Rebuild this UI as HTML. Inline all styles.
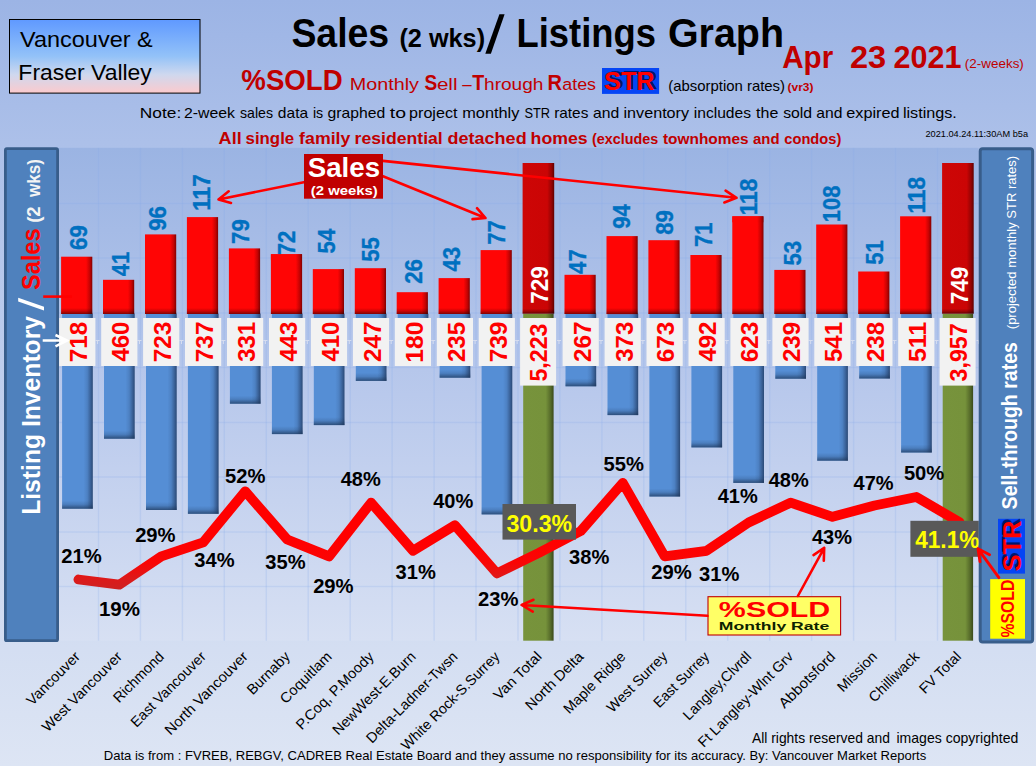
<!DOCTYPE html>
<html><head><meta charset="utf-8"><title>Sales / Listings Graph</title>
<style>html,body{margin:0;padding:0;background:#a9bde8;}body{width:1036px;height:766px;overflow:hidden;font-family:"Liberation Sans", sans-serif;}svg{display:block}</style>
</head><body>
<svg width="1036" height="766" viewBox="0 0 1036 766" font-family='"Liberation Sans", sans-serif'>
<defs>
<linearGradient id="bg" x1="0" y1="0" x2="0" y2="1">
<stop offset="0" stop-color="#9cb4e5"/><stop offset="0.185" stop-color="#acc0e9"/><stop offset="1" stop-color="#dde5f4"/></linearGradient>
<linearGradient id="plot" x1="0" y1="0" x2="0" y2="1">
<stop offset="0" stop-color="#9bb4e3"/><stop offset="0.5" stop-color="#b9c9ec"/><stop offset="1" stop-color="#d7e0f3"/></linearGradient>
<linearGradient id="vfv" x1="0" y1="0" x2="0" y2="1">
<stop offset="0" stop-color="#5f99ff"/><stop offset="0.5" stop-color="#93c2f8"/><stop offset="0.75" stop-color="#cfd8ee"/><stop offset="1" stop-color="#fccacd"/></linearGradient>
<linearGradient id="redR" x1="0" y1="0" x2="1" y2="0">
<stop offset="0" stop-color="#ff0505"/><stop offset="0.8" stop-color="#ff0505"/><stop offset="0.92" stop-color="#c40303"/><stop offset="1" stop-color="#820000"/></linearGradient>
<linearGradient id="dredR" x1="0" y1="0" x2="1" y2="0">
<stop offset="0" stop-color="#cd0606"/><stop offset="0.78" stop-color="#cb0505"/><stop offset="0.92" stop-color="#930303"/><stop offset="1" stop-color="#600000"/></linearGradient>
<linearGradient id="blueR" x1="0" y1="0" x2="1" y2="0">
<stop offset="0" stop-color="#558ed5"/><stop offset="0.70" stop-color="#558ed5"/><stop offset="0.82" stop-color="#4d81c3"/><stop offset="0.92" stop-color="#3b639a"/><stop offset="1" stop-color="#2a4976"/></linearGradient>
<linearGradient id="greenR" x1="0" y1="0" x2="1" y2="0">
<stop offset="0" stop-color="#77933c"/><stop offset="0.74" stop-color="#76923b"/><stop offset="0.9" stop-color="#566b2a"/><stop offset="1" stop-color="#3a4a1b"/></linearGradient>
<linearGradient id="shB" x1="0" y1="0" x2="0" y2="1">
<stop offset="0" stop-color="#000" stop-opacity="0"/><stop offset="0.5" stop-color="#000" stop-opacity="0.2"/><stop offset="1" stop-color="#000" stop-opacity="0.5"/></linearGradient>
<linearGradient id="lineG" gradientUnits="userSpaceOnUse" x1="0" y1="540" x2="0" y2="590"><stop offset="0" stop-color="#ff0000"/><stop offset="0.45" stop-color="#fa0505"/><stop offset="0.78" stop-color="#dc1a1a"/><stop offset="1" stop-color="#cc2222"/></linearGradient>
<linearGradient id="shB2" x1="0" y1="0" x2="0" y2="1"><stop offset="0" stop-color="#1d3557" stop-opacity="0"/><stop offset="0.45" stop-color="#1d3557" stop-opacity="0.18"/><stop offset="1" stop-color="#1d3557" stop-opacity="0.72"/></linearGradient>
<filter id="tsh" x="-10%" y="-10%" width="120%" height="120%"><feGaussianBlur stdDeviation="0.7"/></filter>
<filter id="lsh" x="-5%" y="-20%" width="110%" height="140%"><feGaussianBlur stdDeviation="1.2"/></filter>
</defs>
<rect width="1036" height="766" fill="url(#bg)"/>
<rect x="56" y="147.8" width="922.6" height="492.90000000000003" fill="url(#plot)"/>

<line x1="59" x2="978.6" y1="203.4" y2="203.4" stroke="#86aaea" stroke-width="1.5" opacity="0.21"/>
<line x1="59" x2="978.6" y1="258.1" y2="258.1" stroke="#86aaea" stroke-width="1.5" opacity="0.21"/>
<line x1="59" x2="978.6" y1="312.9" y2="312.9" stroke="#86aaea" stroke-width="1.5" opacity="0.21"/>
<line x1="59" x2="978.6" y1="367.6" y2="367.6" stroke="#86aaea" stroke-width="1.5" opacity="0.21"/>
<line x1="59" x2="978.6" y1="422.4" y2="422.4" stroke="#86aaea" stroke-width="1.5" opacity="0.21"/>
<line x1="59" x2="978.6" y1="477.1" y2="477.1" stroke="#86aaea" stroke-width="1.5" opacity="0.21"/>
<line x1="59" x2="978.6" y1="531.9" y2="531.9" stroke="#86aaea" stroke-width="1.5" opacity="0.21"/>
<line x1="59" x2="978.6" y1="586.6" y2="586.6" stroke="#86aaea" stroke-width="1.5" opacity="0.21"/>
<line x1="98.5" x2="98.5" y1="147.8" y2="640.7" stroke="#86aaea" stroke-width="1.5" opacity="0.21"/>
<line x1="140.4" x2="140.4" y1="147.8" y2="640.7" stroke="#86aaea" stroke-width="1.5" opacity="0.21"/>
<line x1="182.4" x2="182.4" y1="147.8" y2="640.7" stroke="#86aaea" stroke-width="1.5" opacity="0.21"/>
<line x1="224.3" x2="224.3" y1="147.8" y2="640.7" stroke="#86aaea" stroke-width="1.5" opacity="0.21"/>
<line x1="266.3" x2="266.3" y1="147.8" y2="640.7" stroke="#86aaea" stroke-width="1.5" opacity="0.21"/>
<line x1="308.2" x2="308.2" y1="147.8" y2="640.7" stroke="#86aaea" stroke-width="1.5" opacity="0.21"/>
<line x1="350.2" x2="350.2" y1="147.8" y2="640.7" stroke="#86aaea" stroke-width="1.5" opacity="0.21"/>
<line x1="392.1" x2="392.1" y1="147.8" y2="640.7" stroke="#86aaea" stroke-width="1.5" opacity="0.21"/>
<line x1="434.1" x2="434.1" y1="147.8" y2="640.7" stroke="#86aaea" stroke-width="1.5" opacity="0.21"/>
<line x1="476.0" x2="476.0" y1="147.8" y2="640.7" stroke="#86aaea" stroke-width="1.5" opacity="0.21"/>
<line x1="518.0" x2="518.0" y1="147.8" y2="640.7" stroke="#86aaea" stroke-width="1.5" opacity="0.21"/>
<line x1="559.9" x2="559.9" y1="147.8" y2="640.7" stroke="#86aaea" stroke-width="1.5" opacity="0.21"/>
<line x1="601.9" x2="601.9" y1="147.8" y2="640.7" stroke="#86aaea" stroke-width="1.5" opacity="0.21"/>
<line x1="643.8" x2="643.8" y1="147.8" y2="640.7" stroke="#86aaea" stroke-width="1.5" opacity="0.21"/>
<line x1="685.8" x2="685.8" y1="147.8" y2="640.7" stroke="#86aaea" stroke-width="1.5" opacity="0.21"/>
<line x1="727.7" x2="727.7" y1="147.8" y2="640.7" stroke="#86aaea" stroke-width="1.5" opacity="0.21"/>
<line x1="769.7" x2="769.7" y1="147.8" y2="640.7" stroke="#86aaea" stroke-width="1.5" opacity="0.21"/>
<line x1="811.6" x2="811.6" y1="147.8" y2="640.7" stroke="#86aaea" stroke-width="1.5" opacity="0.21"/>
<line x1="853.6" x2="853.6" y1="147.8" y2="640.7" stroke="#86aaea" stroke-width="1.5" opacity="0.21"/>
<line x1="895.5" x2="895.5" y1="147.8" y2="640.7" stroke="#86aaea" stroke-width="1.5" opacity="0.21"/>
<line x1="937.5" x2="937.5" y1="147.8" y2="640.7" stroke="#86aaea" stroke-width="1.5" opacity="0.21"/>
<rect x="62.1" y="313.6" width="30.7" height="195.1" fill="url(#blueR)"/>
<rect x="62.1" y="500.7" width="30.7" height="8.0" fill="url(#shB2)"/>
<rect x="61.1" y="256.7" width="31.2" height="57.3" fill="url(#redR)"/>
<rect x="61.1" y="308.0" width="31.2" height="6" fill="url(#shB)"/>
<rect x="104.0" y="313.6" width="30.7" height="125.1" fill="url(#blueR)"/>
<rect x="104.0" y="430.7" width="30.7" height="8.0" fill="url(#shB2)"/>
<rect x="103.0" y="279.8" width="31.2" height="34.2" fill="url(#redR)"/>
<rect x="103.0" y="308.0" width="31.2" height="6" fill="url(#shB)"/>
<rect x="146.0" y="313.6" width="30.7" height="196.4" fill="url(#blueR)"/>
<rect x="146.0" y="502.0" width="30.7" height="8.0" fill="url(#shB2)"/>
<rect x="145.0" y="234.4" width="31.2" height="79.6" fill="url(#redR)"/>
<rect x="145.0" y="308.0" width="31.2" height="6" fill="url(#shB)"/>
<rect x="187.9" y="313.6" width="30.7" height="200.2" fill="url(#blueR)"/>
<rect x="187.9" y="505.8" width="30.7" height="8.0" fill="url(#shB2)"/>
<rect x="186.9" y="217.1" width="31.2" height="96.9" fill="url(#redR)"/>
<rect x="186.9" y="308.0" width="31.2" height="6" fill="url(#shB)"/>
<rect x="229.9" y="313.6" width="30.7" height="90.1" fill="url(#blueR)"/>
<rect x="229.9" y="395.7" width="30.7" height="8.0" fill="url(#shB2)"/>
<rect x="228.9" y="248.4" width="31.2" height="65.6" fill="url(#redR)"/>
<rect x="228.9" y="308.0" width="31.2" height="6" fill="url(#shB)"/>
<rect x="271.9" y="313.6" width="30.7" height="120.5" fill="url(#blueR)"/>
<rect x="271.9" y="426.1" width="30.7" height="8.0" fill="url(#shB2)"/>
<rect x="270.9" y="254.2" width="31.2" height="59.8" fill="url(#redR)"/>
<rect x="270.9" y="308.0" width="31.2" height="6" fill="url(#shB)"/>
<rect x="313.8" y="313.6" width="30.7" height="111.5" fill="url(#blueR)"/>
<rect x="313.8" y="417.1" width="30.7" height="8.0" fill="url(#shB2)"/>
<rect x="312.8" y="269.1" width="31.2" height="45.0" fill="url(#redR)"/>
<rect x="312.8" y="308.0" width="31.2" height="6" fill="url(#shB)"/>
<rect x="355.8" y="313.6" width="30.7" height="67.3" fill="url(#blueR)"/>
<rect x="355.8" y="372.9" width="30.7" height="8.0" fill="url(#shB2)"/>
<rect x="354.8" y="268.2" width="31.2" height="45.8" fill="url(#redR)"/>
<rect x="354.8" y="308.0" width="31.2" height="6" fill="url(#shB)"/>
<rect x="397.7" y="313.6" width="30.7" height="49.1" fill="url(#blueR)"/>
<rect x="396.7" y="292.2" width="31.2" height="21.8" fill="url(#redR)"/>
<rect x="396.7" y="308.0" width="31.2" height="6" fill="url(#shB)"/>
<rect x="439.6" y="313.6" width="30.7" height="64.1" fill="url(#blueR)"/>
<rect x="439.6" y="369.7" width="30.7" height="8.0" fill="url(#shB2)"/>
<rect x="438.6" y="278.1" width="31.2" height="35.9" fill="url(#redR)"/>
<rect x="438.6" y="308.0" width="31.2" height="6" fill="url(#shB)"/>
<rect x="481.6" y="313.6" width="30.7" height="200.8" fill="url(#blueR)"/>
<rect x="481.6" y="506.4" width="30.7" height="8.0" fill="url(#shB2)"/>
<rect x="480.6" y="250.1" width="31.2" height="63.9" fill="url(#redR)"/>
<rect x="480.6" y="308.0" width="31.2" height="6" fill="url(#shB)"/>
<rect x="523.2" y="313.6" width="30.4" height="327.1" fill="url(#greenR)"/>
<rect x="522.6" y="163" width="31.6" height="150.6" fill="url(#dredR)"/>
<rect x="522.6" y="308.6" width="31.6" height="5" fill="url(#shB)"/>
<rect x="565.5" y="313.6" width="30.7" height="72.7" fill="url(#blueR)"/>
<rect x="565.5" y="378.3" width="30.7" height="8.0" fill="url(#shB2)"/>
<rect x="564.5" y="274.8" width="31.2" height="39.2" fill="url(#redR)"/>
<rect x="564.5" y="308.0" width="31.2" height="6" fill="url(#shB)"/>
<rect x="607.5" y="313.6" width="30.7" height="101.5" fill="url(#blueR)"/>
<rect x="607.5" y="407.1" width="30.7" height="8.0" fill="url(#shB2)"/>
<rect x="606.5" y="236.1" width="31.2" height="78.0" fill="url(#redR)"/>
<rect x="606.5" y="308.0" width="31.2" height="6" fill="url(#shB)"/>
<rect x="649.4" y="313.6" width="30.7" height="182.9" fill="url(#blueR)"/>
<rect x="649.4" y="488.5" width="30.7" height="8.0" fill="url(#shB2)"/>
<rect x="648.4" y="240.2" width="31.2" height="73.8" fill="url(#redR)"/>
<rect x="648.4" y="308.0" width="31.2" height="6" fill="url(#shB)"/>
<rect x="691.4" y="313.6" width="30.7" height="133.8" fill="url(#blueR)"/>
<rect x="691.4" y="439.4" width="30.7" height="8.0" fill="url(#shB2)"/>
<rect x="690.4" y="255.0" width="31.2" height="59.0" fill="url(#redR)"/>
<rect x="690.4" y="308.0" width="31.2" height="6" fill="url(#shB)"/>
<rect x="733.3" y="313.6" width="30.7" height="169.3" fill="url(#blueR)"/>
<rect x="733.3" y="474.9" width="30.7" height="8.0" fill="url(#shB2)"/>
<rect x="732.3" y="216.3" width="31.2" height="97.8" fill="url(#redR)"/>
<rect x="732.3" y="308.0" width="31.2" height="6" fill="url(#shB)"/>
<rect x="775.3" y="313.6" width="30.7" height="65.1" fill="url(#blueR)"/>
<rect x="775.3" y="370.7" width="30.7" height="8.0" fill="url(#shB2)"/>
<rect x="774.3" y="269.9" width="31.2" height="44.1" fill="url(#redR)"/>
<rect x="774.3" y="308.0" width="31.2" height="6" fill="url(#shB)"/>
<rect x="817.2" y="313.6" width="30.7" height="147.1" fill="url(#blueR)"/>
<rect x="817.2" y="452.7" width="30.7" height="8.0" fill="url(#shB2)"/>
<rect x="816.2" y="224.5" width="31.2" height="89.5" fill="url(#redR)"/>
<rect x="816.2" y="308.0" width="31.2" height="6" fill="url(#shB)"/>
<rect x="859.2" y="313.6" width="30.7" height="64.9" fill="url(#blueR)"/>
<rect x="859.2" y="370.5" width="30.7" height="8.0" fill="url(#shB2)"/>
<rect x="858.2" y="271.5" width="31.2" height="42.5" fill="url(#redR)"/>
<rect x="858.2" y="308.0" width="31.2" height="6" fill="url(#shB)"/>
<rect x="901.1" y="313.6" width="30.7" height="138.9" fill="url(#blueR)"/>
<rect x="901.1" y="444.5" width="30.7" height="8.0" fill="url(#shB2)"/>
<rect x="900.1" y="216.3" width="31.2" height="97.8" fill="url(#redR)"/>
<rect x="900.1" y="308.0" width="31.2" height="6" fill="url(#shB)"/>
<rect x="942.7" y="313.6" width="30.4" height="327.1" fill="url(#greenR)"/>
<rect x="942.1" y="163" width="31.6" height="150.6" fill="url(#dredR)"/>
<rect x="942.1" y="308.6" width="31.6" height="5" fill="url(#shB)"/>
<path d="M53.6 340.5H57.6M55.6 340.5V344" stroke="#d6ddf0" stroke-width="1" fill="none"/>
<path d="M95.6 340.5H99.6M97.6 340.5V344" stroke="#d6ddf0" stroke-width="1" fill="none"/>
<path d="M137.5 340.5H141.5M139.5 340.5V344" stroke="#d6ddf0" stroke-width="1" fill="none"/>
<path d="M179.5 340.5H183.5M181.5 340.5V344" stroke="#d6ddf0" stroke-width="1" fill="none"/>
<path d="M221.4 340.5H225.4M223.4 340.5V344" stroke="#d6ddf0" stroke-width="1" fill="none"/>
<path d="M263.4 340.5H267.4M265.4 340.5V344" stroke="#d6ddf0" stroke-width="1" fill="none"/>
<path d="M305.3 340.5H309.3M307.3 340.5V344" stroke="#d6ddf0" stroke-width="1" fill="none"/>
<path d="M347.3 340.5H351.3M349.3 340.5V344" stroke="#d6ddf0" stroke-width="1" fill="none"/>
<path d="M389.2 340.5H393.2M391.2 340.5V344" stroke="#d6ddf0" stroke-width="1" fill="none"/>
<path d="M431.2 340.5H435.2M433.2 340.5V344" stroke="#d6ddf0" stroke-width="1" fill="none"/>
<path d="M473.1 340.5H477.1M475.1 340.5V344" stroke="#d6ddf0" stroke-width="1" fill="none"/>
<path d="M515.1 340.5H519.1M517.1 340.5V344" stroke="#d6ddf0" stroke-width="1" fill="none"/>
<path d="M557.0 340.5H561.0M559.0 340.5V344" stroke="#d6ddf0" stroke-width="1" fill="none"/>
<path d="M599.0 340.5H603.0M601.0 340.5V344" stroke="#d6ddf0" stroke-width="1" fill="none"/>
<path d="M640.9 340.5H644.9M642.9 340.5V344" stroke="#d6ddf0" stroke-width="1" fill="none"/>
<path d="M682.9 340.5H686.9M684.9 340.5V344" stroke="#d6ddf0" stroke-width="1" fill="none"/>
<path d="M724.8 340.5H728.8M726.8 340.5V344" stroke="#d6ddf0" stroke-width="1" fill="none"/>
<path d="M766.8 340.5H770.8M768.8 340.5V344" stroke="#d6ddf0" stroke-width="1" fill="none"/>
<path d="M808.7 340.5H812.7M810.7 340.5V344" stroke="#d6ddf0" stroke-width="1" fill="none"/>
<path d="M850.7 340.5H854.7M852.7 340.5V344" stroke="#d6ddf0" stroke-width="1" fill="none"/>
<path d="M892.6 340.5H896.6M894.6 340.5V344" stroke="#d6ddf0" stroke-width="1" fill="none"/>
<path d="M934.6 340.5H938.6M936.6 340.5V344" stroke="#d6ddf0" stroke-width="1" fill="none"/>
<path d="M976.5 340.5H980.5M978.5 340.5V344" stroke="#d6ddf0" stroke-width="1" fill="none"/>
<rect x="59.2" y="318" width="36.2" height="48" fill="#f2f2f2"/>
<text font-size="23.8" fill="#ff0000" font-weight="bold" textLength="40.54" lengthAdjust="spacingAndGlyphs" transform="translate(87.1,362.35) rotate(-90)" >718</text>
<rect x="101.2" y="318" width="36.2" height="48" fill="#f2f2f2"/>
<text font-size="23.8" fill="#ff0000" font-weight="bold" textLength="40.04" lengthAdjust="spacingAndGlyphs" transform="translate(129.1,361.62) rotate(-90)" >460</text>
<rect x="143.1" y="318" width="36.2" height="48" fill="#f2f2f2"/>
<text font-size="23.8" fill="#ff0000" font-weight="bold" textLength="40.71" lengthAdjust="spacingAndGlyphs" transform="translate(171.0,362.36) rotate(-90)" >723</text>
<rect x="185.0" y="318" width="36.2" height="48" fill="#f2f2f2"/>
<text font-size="23.8" fill="#ff0000" font-weight="bold" textLength="40.89" lengthAdjust="spacingAndGlyphs" transform="translate(212.9,362.36) rotate(-90)" >737</text>
<rect x="227.0" y="318" width="36.2" height="48" fill="#f2f2f2"/>
<text font-size="23.8" fill="#ff0000" font-weight="bold" textLength="39.96" lengthAdjust="spacingAndGlyphs" transform="translate(254.9,361.86) rotate(-90)" >331</text>
<rect x="269.0" y="318" width="36.2" height="48" fill="#f2f2f2"/>
<text font-size="23.8" fill="#ff0000" font-weight="bold" textLength="39.96" lengthAdjust="spacingAndGlyphs" transform="translate(296.9,361.62) rotate(-90)" >443</text>
<rect x="310.9" y="318" width="36.2" height="48" fill="#f2f2f2"/>
<text font-size="23.8" fill="#ff0000" font-weight="bold" textLength="40.04" lengthAdjust="spacingAndGlyphs" transform="translate(338.8,361.62) rotate(-90)" >410</text>
<rect x="352.9" y="318" width="36.2" height="48" fill="#f2f2f2"/>
<text font-size="23.8" fill="#ff0000" font-weight="bold" textLength="40.63" lengthAdjust="spacingAndGlyphs" transform="translate(380.8,362.11) rotate(-90)" >247</text>
<rect x="394.8" y="318" width="36.2" height="48" fill="#f2f2f2"/>
<text font-size="23.8" fill="#ff0000" font-weight="bold" textLength="41.32" lengthAdjust="spacingAndGlyphs" transform="translate(422.7,362.87) rotate(-90)" >180</text>
<rect x="436.8" y="318" width="36.2" height="48" fill="#f2f2f2"/>
<text font-size="23.8" fill="#ff0000" font-weight="bold" textLength="40.21" lengthAdjust="spacingAndGlyphs" transform="translate(464.6,362.10) rotate(-90)" >235</text>
<rect x="478.7" y="318" width="36.2" height="48" fill="#f2f2f2"/>
<text font-size="23.8" fill="#ff0000" font-weight="bold" textLength="40.71" lengthAdjust="spacingAndGlyphs" transform="translate(506.6,362.36) rotate(-90)" >739</text>
<rect x="520.1" y="318" width="36" height="67.6" fill="#f2f2f2"/>
<text font-size="23.8" fill="#ff0000" font-weight="bold" textLength="58.13" lengthAdjust="spacingAndGlyphs" transform="translate(547.4,381.60) rotate(-90)" >5,223</text>
<rect x="562.6" y="318" width="36.2" height="48" fill="#f2f2f2"/>
<text font-size="23.8" fill="#ff0000" font-weight="bold" textLength="40.63" lengthAdjust="spacingAndGlyphs" transform="translate(590.5,362.11) rotate(-90)" >267</text>
<rect x="604.6" y="318" width="36.2" height="48" fill="#f2f2f2"/>
<text font-size="23.8" fill="#ff0000" font-weight="bold" textLength="40.21" lengthAdjust="spacingAndGlyphs" transform="translate(632.5,361.86) rotate(-90)" >373</text>
<rect x="646.5" y="318" width="36.2" height="48" fill="#f2f2f2"/>
<text font-size="23.8" fill="#ff0000" font-weight="bold" textLength="40.54" lengthAdjust="spacingAndGlyphs" transform="translate(674.4,362.19) rotate(-90)" >673</text>
<rect x="688.5" y="318" width="36.2" height="48" fill="#f2f2f2"/>
<text font-size="23.8" fill="#ff0000" font-weight="bold" textLength="40.04" lengthAdjust="spacingAndGlyphs" transform="translate(716.4,361.62) rotate(-90)" >492</text>
<rect x="730.4" y="318" width="36.2" height="48" fill="#f2f2f2"/>
<text font-size="23.8" fill="#ff0000" font-weight="bold" textLength="40.54" lengthAdjust="spacingAndGlyphs" transform="translate(758.3,362.19) rotate(-90)" >623</text>
<rect x="772.4" y="318" width="36.2" height="48" fill="#f2f2f2"/>
<text font-size="23.8" fill="#ff0000" font-weight="bold" textLength="40.46" lengthAdjust="spacingAndGlyphs" transform="translate(800.3,362.11) rotate(-90)" >239</text>
<rect x="814.3" y="318" width="36.2" height="48" fill="#f2f2f2"/>
<text font-size="23.8" fill="#ff0000" font-weight="bold" textLength="40.13" lengthAdjust="spacingAndGlyphs" transform="translate(842.2,362.02) rotate(-90)" >541</text>
<rect x="856.3" y="318" width="36.2" height="48" fill="#f2f2f2"/>
<text font-size="23.8" fill="#ff0000" font-weight="bold" textLength="40.29" lengthAdjust="spacingAndGlyphs" transform="translate(884.2,362.10) rotate(-90)" >238</text>
<rect x="898.2" y="318" width="36.2" height="48" fill="#f2f2f2"/>
<text font-size="23.8" fill="#ff0000" font-weight="bold" textLength="40.21" lengthAdjust="spacingAndGlyphs" transform="translate(926.1,362.05) rotate(-90)" >511</text>
<rect x="939.6" y="318" width="36" height="67.6" fill="#f2f2f2"/>
<text font-size="23.8" fill="#ff0000" font-weight="bold" textLength="58.13" lengthAdjust="spacingAndGlyphs" transform="translate(966.9,381.44) rotate(-90)" >3,957</text>
<text font-size="23.2" fill="#0070c0" font-weight="bold" textLength="24.6" lengthAdjust="spacingAndGlyphs" transform="translate(87.1,249.9) rotate(-90)" stroke="#0070c0" stroke-width="0.35">69</text>
<text font-size="23.2" fill="#0070c0" font-weight="bold" textLength="24.6" lengthAdjust="spacingAndGlyphs" transform="translate(129.4,276.3) rotate(-90)" stroke="#0070c0" stroke-width="0.35">41</text>
<text font-size="23.2" fill="#0070c0" font-weight="bold" textLength="24.6" lengthAdjust="spacingAndGlyphs" transform="translate(166.2,230.8) rotate(-90)" stroke="#0070c0" stroke-width="0.35">96</text>
<text font-size="23.2" fill="#0070c0" font-weight="bold" textLength="36.6" lengthAdjust="spacingAndGlyphs" transform="translate(209.6,210.8) rotate(-90)" stroke="#0070c0" stroke-width="0.35">117</text>
<text font-size="23.2" fill="#0070c0" font-weight="bold" textLength="24.6" lengthAdjust="spacingAndGlyphs" transform="translate(248.7,243.9) rotate(-90)" stroke="#0070c0" stroke-width="0.35">79</text>
<text font-size="23.2" fill="#0070c0" font-weight="bold" textLength="24.6" lengthAdjust="spacingAndGlyphs" transform="translate(295,255.2) rotate(-90)" stroke="#0070c0" stroke-width="0.35">72</text>
<text font-size="23.2" fill="#0070c0" font-weight="bold" textLength="24.6" lengthAdjust="spacingAndGlyphs" transform="translate(335,253.4) rotate(-90)" stroke="#0070c0" stroke-width="0.35">54</text>
<text font-size="23.2" fill="#0070c0" font-weight="bold" textLength="24.6" lengthAdjust="spacingAndGlyphs" transform="translate(379,261.8) rotate(-90)" stroke="#0070c0" stroke-width="0.35">55</text>
<text font-size="23.2" fill="#0070c0" font-weight="bold" textLength="24.6" lengthAdjust="spacingAndGlyphs" transform="translate(422,283.7) rotate(-90)" stroke="#0070c0" stroke-width="0.35">26</text>
<text font-size="23.2" fill="#0070c0" font-weight="bold" textLength="24.6" lengthAdjust="spacingAndGlyphs" transform="translate(459.9,271.6) rotate(-90)" stroke="#0070c0" stroke-width="0.35">43</text>
<text font-size="23.2" fill="#0070c0" font-weight="bold" textLength="24.6" lengthAdjust="spacingAndGlyphs" transform="translate(504.7,244.8) rotate(-90)" stroke="#0070c0" stroke-width="0.35">77</text>
<text font-size="23.2" fill="#0070c0" font-weight="bold" textLength="24.6" lengthAdjust="spacingAndGlyphs" transform="translate(585.9,273.9) rotate(-90)" stroke="#0070c0" stroke-width="0.35">47</text>
<text font-size="23.2" fill="#0070c0" font-weight="bold" textLength="24.6" lengthAdjust="spacingAndGlyphs" transform="translate(630.2,228.7) rotate(-90)" stroke="#0070c0" stroke-width="0.35">94</text>
<text font-size="23.2" fill="#0070c0" font-weight="bold" textLength="24.6" lengthAdjust="spacingAndGlyphs" transform="translate(673.1,234.8) rotate(-90)" stroke="#0070c0" stroke-width="0.35">89</text>
<text font-size="23.2" fill="#0070c0" font-weight="bold" textLength="24.6" lengthAdjust="spacingAndGlyphs" transform="translate(711.9,247) rotate(-90)" stroke="#0070c0" stroke-width="0.35">71</text>
<text font-size="23.2" fill="#0070c0" font-weight="bold" textLength="36.6" lengthAdjust="spacingAndGlyphs" transform="translate(757.4,215.3) rotate(-90)" stroke="#0070c0" stroke-width="0.35">118</text>
<text font-size="23.2" fill="#0070c0" font-weight="bold" textLength="24.6" lengthAdjust="spacingAndGlyphs" transform="translate(800.8,265.6) rotate(-90)" stroke="#0070c0" stroke-width="0.35">53</text>
<text font-size="23.2" fill="#0070c0" font-weight="bold" textLength="36.6" lengthAdjust="spacingAndGlyphs" transform="translate(839.9,222.2) rotate(-90)" stroke="#0070c0" stroke-width="0.35">108</text>
<text font-size="23.2" fill="#0070c0" font-weight="bold" textLength="24.6" lengthAdjust="spacingAndGlyphs" transform="translate(883.3,264.8) rotate(-90)" stroke="#0070c0" stroke-width="0.35">51</text>
<text font-size="23.2" fill="#0070c0" font-weight="bold" textLength="36.6" lengthAdjust="spacingAndGlyphs" transform="translate(924.6,213.5) rotate(-90)" stroke="#0070c0" stroke-width="0.35">118</text>
<rect x="270.9" y="254.2" width="31" height="6" fill="url(#redR)"/>
<rect x="732.3" y="216.3" width="31" height="6" fill="url(#redR)"/>
<text font-size="23.6" fill="#fff" font-weight="bold" textLength="37.6" lengthAdjust="spacingAndGlyphs" transform="translate(548.3,303.8) rotate(-90)" >729</text>
<text font-size="23.6" fill="#fff" font-weight="bold" textLength="37.6" lengthAdjust="spacingAndGlyphs" transform="translate(967.6,304.2) rotate(-90)" >749</text>
<path d="M78.4 579.5 L119.3 584.7 L161.3 556.4 L203.2 542.3 L245.2 491.3 L287.2 539.5 L329.1 556.4 L371.1 502.7 L413.0 550.8 L454.9 525.3 L496.9 573.4 L538.9 552.8 L580.8 531.0 L622.8 482.9 L664.7 556.4 L706.6 550.8 L748.6 522.5 L790.6 502.7 L832.5 516.8 L874.5 505.5 L916.4 497.0 L959.6 522.2" fill="none" stroke="url(#lineG)" stroke-width="9.8" stroke-linejoin="round" stroke-linecap="round"/>
<text font-size="20.4" fill="#000" font-weight="bold" textLength="40.48" lengthAdjust="spacingAndGlyphs" x="61.33" y="563.4" >21%</text>
<text font-size="20.4" fill="#000" font-weight="bold" textLength="41.11" lengthAdjust="spacingAndGlyphs" x="98.90" y="615.6" >19%</text>
<text font-size="20.4" fill="#000" font-weight="bold" textLength="40.48" lengthAdjust="spacingAndGlyphs" x="135.13" y="541.6" >29%</text>
<text font-size="20.4" fill="#000" font-weight="bold" textLength="40.27" lengthAdjust="spacingAndGlyphs" x="194.33" y="566.6" >34%</text>
<text font-size="20.4" fill="#000" font-weight="bold" textLength="40.41" lengthAdjust="spacingAndGlyphs" x="225.09" y="482.6" >52%</text>
<text font-size="20.4" fill="#000" font-weight="bold" textLength="40.27" lengthAdjust="spacingAndGlyphs" x="265.33" y="569.2" >35%</text>
<text font-size="20.4" fill="#000" font-weight="bold" textLength="40.48" lengthAdjust="spacingAndGlyphs" x="313.13" y="592.6" >29%</text>
<text font-size="20.4" fill="#000" font-weight="bold" textLength="40.06" lengthAdjust="spacingAndGlyphs" x="340.73" y="486.4" >48%</text>
<text font-size="20.4" fill="#000" font-weight="bold" textLength="40.27" lengthAdjust="spacingAndGlyphs" x="395.53" y="579.3" >31%</text>
<text font-size="20.4" fill="#000" font-weight="bold" textLength="40.06" lengthAdjust="spacingAndGlyphs" x="433.23" y="507.8" >40%</text>
<text font-size="20.4" fill="#000" font-weight="bold" textLength="40.48" lengthAdjust="spacingAndGlyphs" x="478.03" y="606.4" >23%</text>
<text font-size="20.4" fill="#000" font-weight="bold" textLength="40.27" lengthAdjust="spacingAndGlyphs" x="569.03" y="563.5" >38%</text>
<text font-size="20.4" fill="#000" font-weight="bold" textLength="40.41" lengthAdjust="spacingAndGlyphs" x="603.59" y="471.4" >55%</text>
<text font-size="20.4" fill="#000" font-weight="bold" textLength="40.48" lengthAdjust="spacingAndGlyphs" x="651.23" y="579.3" >29%</text>
<text font-size="20.4" fill="#000" font-weight="bold" textLength="40.27" lengthAdjust="spacingAndGlyphs" x="699.03" y="581.4" >31%</text>
<text font-size="20.4" fill="#000" font-weight="bold" textLength="40.06" lengthAdjust="spacingAndGlyphs" x="717.73" y="502.7" >41%</text>
<text font-size="20.4" fill="#000" font-weight="bold" textLength="40.06" lengthAdjust="spacingAndGlyphs" x="768.73" y="487.2" >48%</text>
<text font-size="20.4" fill="#000" font-weight="bold" textLength="40.06" lengthAdjust="spacingAndGlyphs" x="811.93" y="544.1" >43%</text>
<text font-size="20.4" fill="#000" font-weight="bold" textLength="40.06" lengthAdjust="spacingAndGlyphs" x="853.53" y="490.2" >47%</text>
<text font-size="20.4" fill="#000" font-weight="bold" textLength="40.41" lengthAdjust="spacingAndGlyphs" x="903.89" y="480.2" >50%</text>
<rect x="502.5" y="504" width="73.5" height="35.6" fill="#595959"/>
<text font-size="23.6" fill="#ffff00" font-weight="bold" textLength="65.73" lengthAdjust="spacingAndGlyphs" x="506.46" y="531.6" >30.3%</text>
<rect x="910.4" y="520.8" width="68.4" height="36" fill="#595959"/>
<text font-size="23.6" fill="#ffff00" font-weight="bold" textLength="64.18" lengthAdjust="spacingAndGlyphs" x="915.20" y="547.8" >41.1%</text>
<text font-size="14.4" fill="#000" text-anchor="end" textLength="68.9" lengthAdjust="spacingAndGlyphs" transform="translate(81.0,657.5) rotate(-45)" >Vancouver</text>
<text font-size="14.4" fill="#000" text-anchor="end" textLength="106.4" lengthAdjust="spacingAndGlyphs" transform="translate(123.0,657.5) rotate(-45)" >West Vancouver</text>
<text font-size="14.4" fill="#000" text-anchor="end" textLength="65.0" lengthAdjust="spacingAndGlyphs" transform="translate(164.9,657.5) rotate(-45)" >Richmond</text>
<text font-size="14.4" fill="#000" text-anchor="end" textLength="99.6" lengthAdjust="spacingAndGlyphs" transform="translate(206.8,657.5) rotate(-45)" >East Vancouver</text>
<text font-size="14.4" fill="#000" text-anchor="end" textLength="110.7" lengthAdjust="spacingAndGlyphs" transform="translate(248.8,657.5) rotate(-45)" >North Vancouver</text>
<text font-size="14.4" fill="#000" text-anchor="end" textLength="53.8" lengthAdjust="spacingAndGlyphs" transform="translate(290.8,657.5) rotate(-45)" >Burnaby</text>
<text font-size="14.4" fill="#000" text-anchor="end" textLength="66.3" lengthAdjust="spacingAndGlyphs" transform="translate(332.7,657.5) rotate(-45)" >Coquitlam</text>
<text font-size="14.4" fill="#000" text-anchor="end" textLength="103.2" lengthAdjust="spacingAndGlyphs" transform="translate(374.6,657.5) rotate(-45)" >P.Coq, P.Moody</text>
<text font-size="14.4" fill="#000" text-anchor="end" textLength="110.8" lengthAdjust="spacingAndGlyphs" transform="translate(416.6,657.5) rotate(-45)" >NewWest-E.Burn</text>
<text font-size="14.4" fill="#000" text-anchor="end" textLength="122.3" lengthAdjust="spacingAndGlyphs" transform="translate(458.5,657.5) rotate(-45)" >Delta-Ladner-Twsn</text>
<text font-size="14.4" fill="#000" text-anchor="end" textLength="132.2" lengthAdjust="spacingAndGlyphs" transform="translate(500.5,657.5) rotate(-45)" >White Rock-S.Surrey</text>
<text font-size="14.4" fill="#000" text-anchor="end" textLength="61.1" lengthAdjust="spacingAndGlyphs" transform="translate(542.5,657.5) rotate(-45)" >Van Total</text>
<text font-size="14.4" fill="#000" text-anchor="end" textLength="75.6" lengthAdjust="spacingAndGlyphs" transform="translate(584.4,657.5) rotate(-45)" >North Delta</text>
<text font-size="14.4" fill="#000" text-anchor="end" textLength="80.7" lengthAdjust="spacingAndGlyphs" transform="translate(626.4,657.5) rotate(-45)" >Maple Ridge</text>
<text font-size="14.4" fill="#000" text-anchor="end" textLength="78.9" lengthAdjust="spacingAndGlyphs" transform="translate(668.3,657.5) rotate(-45)" >West Surrey</text>
<text font-size="14.4" fill="#000" text-anchor="end" textLength="72.2" lengthAdjust="spacingAndGlyphs" transform="translate(710.2,657.5) rotate(-45)" >East Surrey</text>
<text font-size="14.4" fill="#000" text-anchor="end" textLength="89.7" lengthAdjust="spacingAndGlyphs" transform="translate(752.2,657.5) rotate(-45)" >Langley,Clvrdl</text>
<text font-size="14.4" fill="#000" text-anchor="end" textLength="128.0" lengthAdjust="spacingAndGlyphs" transform="translate(794.2,657.5) rotate(-45)" >Ft Langley-Wlnt Grv</text>
<text font-size="14.4" fill="#000" text-anchor="end" textLength="72.8" lengthAdjust="spacingAndGlyphs" transform="translate(836.1,657.5) rotate(-45)" >Abbotsford</text>
<text font-size="14.4" fill="#000" text-anchor="end" textLength="49.8" lengthAdjust="spacingAndGlyphs" transform="translate(878.1,657.5) rotate(-45)" >Mission</text>
<text font-size="14.4" fill="#000" text-anchor="end" textLength="64.2" lengthAdjust="spacingAndGlyphs" transform="translate(920.0,657.5) rotate(-45)" >Chilliwack</text>
<text font-size="14.4" fill="#000" text-anchor="end" textLength="52.4" lengthAdjust="spacingAndGlyphs" transform="translate(962.0,657.5) rotate(-45)" >FV Total</text>
<rect x="5.4" y="148.7" width="52.2" height="492" rx="1.5" fill="#4f81bd" stroke="#385d8a" stroke-width="2.8"/>
<text font-size="26" fill="#fff" font-weight="bold" textLength="198.90" lengthAdjust="spacingAndGlyphs" transform="translate(39.9,514.85) rotate(-90)" >Listing Inventory</text>
<polygon points="18.2,297.8 18.2,301.4 44,310.4 44,306.7" fill="#fff"/>
<text font-size="26" fill="#ff0000" font-weight="bold" textLength="61.55" lengthAdjust="spacingAndGlyphs" transform="translate(39.9,290.01) rotate(-90)" >Sales</text>
<text font-size="18.8" fill="#f4f4f4" font-weight="bold" textLength="16.45" lengthAdjust="spacingAndGlyphs" transform="translate(39.9,222.83) rotate(-90)" >(2</text>
<text font-size="18.8" fill="#f4f4f4" font-weight="bold" textLength="38.10" lengthAdjust="spacingAndGlyphs" transform="translate(39.9,197.04) rotate(-90)" >wks)</text>
<path d="M43.2 296.6H72" stroke="#ff0000" stroke-width="2.6" fill="none"/>
<path d="M42.7 340.5H66M55.5 335L67 340.5L55.5 346.4" stroke="#fff" stroke-width="2.6" fill="none"/>
<rect x="980.2" y="148.7" width="52.4" height="493.4" rx="2.5" fill="#4f81bd" stroke="#385d8a" stroke-width="3"/>
<text font-size="22" fill="#fff" font-weight="bold" textLength="167.4" lengthAdjust="spacingAndGlyphs" transform="translate(1016.5,509.4) rotate(-90)" >Sell-through rates</text>
<text font-size="12.8" fill="#fff" textLength="173.3" lengthAdjust="spacingAndGlyphs" transform="translate(1016.3,329.2) rotate(-90)" >(projected monthly STR rates)</text>
<rect x="998" y="518.8" width="27" height="54.8" fill="#0545f5"/>
<text font-size="26.6" fill="#00156a" font-weight="bold" textLength="51.06" lengthAdjust="spacingAndGlyphs" transform="translate(1019.8000000000001,568.97) rotate(-90)" filter="url(#tsh)">STR</text>
<text font-size="26.6" fill="#ff0000" font-weight="bold" textLength="51.06" lengthAdjust="spacingAndGlyphs" transform="translate(1021.2,571.57) rotate(-90)" >STR</text>
<rect x="990.2" y="579.1" width="34.8" height="59.6" fill="#ffff00"/>
<text font-size="18.4" fill="#ff0000" font-weight="bold" textLength="57.75" lengthAdjust="spacingAndGlyphs" transform="translate(1013.7,637.47) rotate(-90)" >%SOLD</text>
<rect x="708" y="596.7" width="132.6" height="38.3" fill="#ffff66" stroke="#c00000" stroke-width="1.1"/>
<text font-size="22.2" fill="#ff0000" font-weight="bold" textLength="111.44" lengthAdjust="spacingAndGlyphs" x="718.89" y="616.5" >%SOLD</text>
<text font-size="10.8" fill="#0c2200" font-weight="bold" textLength="110.42" lengthAdjust="spacingAndGlyphs" x="718.83" y="629.8" >Monthly Rate</text>
<path d="M305.0 182.0L218.5 199.4M231.0 202.9L218.5 199.4L228.7 191.3" fill="none" stroke="#ff0000" stroke-width="2.6" stroke-linecap="round" stroke-linejoin="round"/>
<path d="M383.0 176.2L485.5 218.0M477.0 208.2L485.5 218.0L472.5 219.1" fill="none" stroke="#ff0000" stroke-width="2.6" stroke-linecap="round" stroke-linejoin="round"/>
<path d="M383.0 160.9L736.5 197.8M725.6 190.7L736.5 197.8L724.4 202.5" fill="none" stroke="#ff0000" stroke-width="2.6" stroke-linecap="round" stroke-linejoin="round"/>
<path d="M707.5 615.8L521.6 605.0M532.8 611.6L521.6 605.0L533.5 599.8" fill="none" stroke="#ff0000" stroke-width="2.6" stroke-linecap="round" stroke-linejoin="round"/>
<path d="M797.9 596.0L824.2 547.8M813.5 555.1L824.2 547.8L823.8 560.8" fill="none" stroke="#ff0000" stroke-width="2.6" stroke-linecap="round" stroke-linejoin="round"/>
<path d="M998.9 577.6L978.0 548.8M980.0 561.6L978.0 548.8L989.6 554.7" fill="none" stroke="#ff0000" stroke-width="2.9" stroke-linecap="round" stroke-linejoin="round"/>
<rect x="304" y="154" width="79" height="44.7" fill="#c00000"/>
<text font-size="28.2" fill="#fff" font-weight="bold" textLength="72.33" lengthAdjust="spacingAndGlyphs" x="307.77" y="177" >Sales</text>
<text font-size="13.7" fill="#fff" font-weight="bold" textLength="66.87" lengthAdjust="spacingAndGlyphs" x="310.86" y="195.2" >(2 weeks)</text>
<rect x="9.5" y="19.5" width="190.5" height="73.6" fill="url(#vfv)" stroke="#000" stroke-width="1"/>
<text font-size="22.6" fill="#000" textLength="132.72" lengthAdjust="spacingAndGlyphs" x="20.02" y="47.2" >Vancouver &amp;</text>
<text font-size="22.6" fill="#000" textLength="133.48" lengthAdjust="spacingAndGlyphs" x="18.39" y="79.8" >Fraser Valley</text>
<text font-size="41" fill="#000" font-weight="bold" textLength="97.82" lengthAdjust="spacingAndGlyphs" x="291.38" y="46.7" >Sales</text>
<text font-size="25.2" fill="#000" font-weight="bold" textLength="85.63" lengthAdjust="spacingAndGlyphs" x="399.44" y="46.5" >(2 wks)</text>
<polygon points="499.4,14.2 504.6,14.2 490.9,53.7 485.3,53.7" fill="#000"/>
<text font-size="41" fill="#000" font-weight="bold" textLength="139.59" lengthAdjust="spacingAndGlyphs" x="516.47" y="46.5" >Listings</text>
<text font-size="41" fill="#000" font-weight="bold" textLength="116.10" lengthAdjust="spacingAndGlyphs" x="667.92" y="46.5" >Graph</text>
<text font-size="31.6" fill="#c00000" font-weight="bold" textLength="50.95" lengthAdjust="spacingAndGlyphs" x="782.21" y="68.2" >Apr</text>
<text font-size="31.6" fill="#c00000" font-weight="bold" textLength="36.25" lengthAdjust="spacingAndGlyphs" x="849.91" y="68.2" >23</text>
<text font-size="31.6" fill="#c00000" font-weight="bold" textLength="67.97" lengthAdjust="spacingAndGlyphs" x="893.48" y="68.2" >2021</text>
<text font-size="12.2" fill="#c00000" textLength="59.00" lengthAdjust="spacingAndGlyphs" x="964.85" y="68" >(2-weeks)</text>
<text font-size="30.2" fill="#c00000" font-weight="bold" textLength="101.35" lengthAdjust="spacingAndGlyphs" x="241.36" y="90.4" >%SOLD</text>
<text font-size="17.4" fill="#c00000" textLength="69.24" lengthAdjust="spacingAndGlyphs" x="349.75" y="90.2" >Monthly</text>
<text font-size="22.2" fill="#c00000" font-weight="bold" textLength="12.74" lengthAdjust="spacingAndGlyphs" x="424.53" y="90.2" >S</text>
<text font-size="17.4" fill="#c00000" textLength="20.61" lengthAdjust="spacingAndGlyphs" x="436.91" y="90.2" >ell</text>
<text font-size="17.4" fill="#c00000" textLength="9.39" lengthAdjust="spacingAndGlyphs" x="462.20" y="90.2" >–</text>
<text font-size="22.2" fill="#c00000" font-weight="bold" textLength="12.01" lengthAdjust="spacingAndGlyphs" x="472.20" y="90.2" >T</text>
<text font-size="17.4" fill="#c00000" textLength="59.42" lengthAdjust="spacingAndGlyphs" x="484.06" y="90.2" >hrough</text>
<text font-size="22.2" fill="#c00000" font-weight="bold" textLength="14.48" lengthAdjust="spacingAndGlyphs" x="547.56" y="90.2" >R</text>
<text font-size="17.4" fill="#c00000" textLength="33.83" lengthAdjust="spacingAndGlyphs" x="562.22" y="90.2" >ates</text>
<rect x="602" y="68" width="57.1" height="25.9" fill="#0545f5"/>
<text font-size="26.3" fill="#00156a" font-weight="bold" textLength="50.55" lengthAdjust="spacingAndGlyphs" x="606.64" y="88.6" filter="url(#tsh)">STR</text>
<text font-size="26.3" fill="#ff0000" font-weight="bold" textLength="50.55" lengthAdjust="spacingAndGlyphs" x="604.04" y="90" >STR</text>
<text font-size="14.2" fill="#000" textLength="116.79" lengthAdjust="spacingAndGlyphs" x="668.26" y="90.8" >(absorption rates)</text>
<text font-size="10.8" fill="#c00000" font-weight="bold" textLength="25.91" lengthAdjust="spacingAndGlyphs" x="787.50" y="90.6" >(vr3)</text>
<text font-size="14.6" fill="#000" textLength="41.40" lengthAdjust="spacingAndGlyphs" x="139.86" y="117.6" >Note:</text>
<text font-size="14.6" fill="#000" textLength="51.00" lengthAdjust="spacingAndGlyphs" x="183.91" y="117.6" >2-week</text>
<text font-size="14.6" fill="#000" textLength="33.01" lengthAdjust="spacingAndGlyphs" x="240.02" y="117.6" >sales</text>
<text font-size="14.6" fill="#000" textLength="30.21" lengthAdjust="spacingAndGlyphs" x="277.88" y="117.6" >data</text>
<text font-size="14.6" fill="#000" textLength="10.25" lengthAdjust="spacingAndGlyphs" x="312.95" y="117.6" >is</text>
<text font-size="14.6" fill="#000" textLength="57.62" lengthAdjust="spacingAndGlyphs" x="327.57" y="117.6" >graphed</text>
<text font-size="14.6" fill="#000" textLength="16.21" lengthAdjust="spacingAndGlyphs" x="389.74" y="117.6" >to</text>
<text font-size="14.6" fill="#000" textLength="48.35" lengthAdjust="spacingAndGlyphs" x="409.08" y="117.6" >project</text>
<text font-size="14.6" fill="#000" textLength="57.17" lengthAdjust="spacingAndGlyphs" x="462.21" y="117.6" >monthly</text>
<text font-size="14.6" fill="#000" textLength="25.59" lengthAdjust="spacingAndGlyphs" x="524.40" y="117.6" >STR</text>
<text font-size="14.6" fill="#000" textLength="34.19" lengthAdjust="spacingAndGlyphs" x="554.17" y="117.6" >rates</text>
<text font-size="14.6" fill="#000" textLength="26.25" lengthAdjust="spacingAndGlyphs" x="593.12" y="117.6" >and</text>
<text font-size="14.6" fill="#000" textLength="65.55" lengthAdjust="spacingAndGlyphs" x="623.52" y="117.6" >inventory</text>
<text font-size="14.6" fill="#000" textLength="57.30" lengthAdjust="spacingAndGlyphs" x="693.76" y="117.6" >includes</text>
<text font-size="14.6" fill="#000" textLength="22.21" lengthAdjust="spacingAndGlyphs" x="756.09" y="117.6" >the</text>
<text font-size="14.6" fill="#000" textLength="28.99" lengthAdjust="spacingAndGlyphs" x="783.18" y="117.6" >sold</text>
<text font-size="14.6" fill="#000" textLength="26.15" lengthAdjust="spacingAndGlyphs" x="816.32" y="117.6" >and</text>
<text font-size="14.6" fill="#000" textLength="53.23" lengthAdjust="spacingAndGlyphs" x="846.30" y="117.6" >expired</text>
<text font-size="14.6" fill="#000" textLength="53.95" lengthAdjust="spacingAndGlyphs" x="902.92" y="117.6" >listings.</text>
<text font-size="17" fill="#c00000" font-weight="bold" textLength="23.07" lengthAdjust="spacingAndGlyphs" x="218.62" y="143.7" >All</text>
<text font-size="17" fill="#c00000" font-weight="bold" textLength="48.57" lengthAdjust="spacingAndGlyphs" x="245.58" y="143.7" >single</text>
<text font-size="17" fill="#c00000" font-weight="bold" textLength="51.32" lengthAdjust="spacingAndGlyphs" x="299.10" y="143.7" >family</text>
<text font-size="17" fill="#c00000" font-weight="bold" textLength="88.14" lengthAdjust="spacingAndGlyphs" x="354.63" y="143.7" >residential</text>
<text font-size="17" fill="#c00000" font-weight="bold" textLength="79.06" lengthAdjust="spacingAndGlyphs" x="447.58" y="143.7" >detached</text>
<text font-size="17" fill="#c00000" font-weight="bold" textLength="57.15" lengthAdjust="spacingAndGlyphs" x="530.56" y="143.7" >homes</text>
<text font-size="14.6" fill="#c00000" font-weight="bold" textLength="66.29" lengthAdjust="spacingAndGlyphs" x="591.98" y="143.7" >(excludes</text>
<text font-size="14.6" fill="#c00000" font-weight="bold" textLength="85.61" lengthAdjust="spacingAndGlyphs" x="662.99" y="143.7" >townhomes</text>
<text font-size="14.6" fill="#c00000" font-weight="bold" textLength="26.51" lengthAdjust="spacingAndGlyphs" x="753.05" y="143.7" >and</text>
<text font-size="14.6" fill="#c00000" font-weight="bold" textLength="57.00" lengthAdjust="spacingAndGlyphs" x="784.31" y="143.7" >condos)</text>
<text font-size="8.8" fill="#000" textLength="102.56" lengthAdjust="spacingAndGlyphs" x="925.44" y="136.8" >2021.04.24.11:30AM b5a</text>
<text font-size="14.4" fill="#000" textLength="137.91" lengthAdjust="spacingAndGlyphs" x="751.95" y="742.6" >All rights reserved and</text>
<text font-size="14.4" fill="#000" textLength="121.90" lengthAdjust="spacingAndGlyphs" x="896.46" y="742.6" >images copyrighted</text>
<text font-size="13.33" fill="#000" textLength="822.56" lengthAdjust="spacingAndGlyphs" x="103.71" y="760.4" >Data is from : FVREB, REBGV, CADREB Real Estate Board and they assume no responsibility for its accuracy. By: Vancouver Market Reports</text>
</svg>
</body></html>
